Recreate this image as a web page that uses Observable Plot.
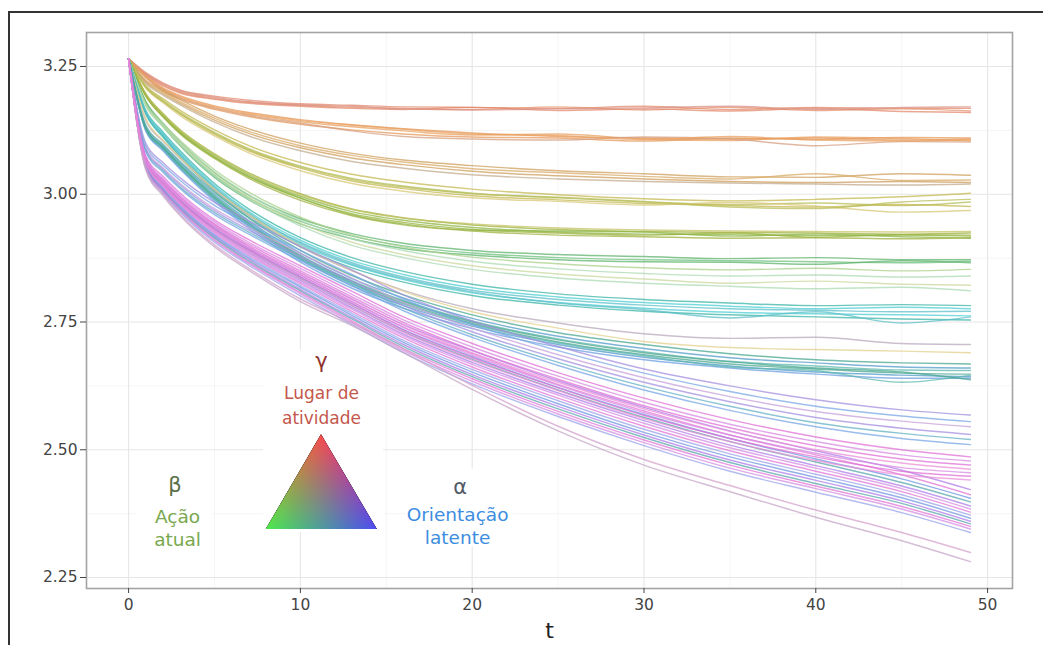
<!DOCTYPE html>
<html><head><meta charset="utf-8">
<script src="https://cdn.jsdelivr.net/npm/d3@7"></script>
<script src="https://cdn.jsdelivr.net/npm/@observablehq/plot@0.6"></script>
<style>
html,body{margin:0;padding:0;background:#fff;overflow:hidden;}
#wrap{position:relative;width:1043px;height:645px;overflow:hidden;}
#outer{position:absolute;left:8px;top:11px;width:1040px;height:700px;border-left:2px solid #333;border-top:2px solid #333;pointer-events:none;}
</style></head><body><div id="wrap"><div id="chart"></div><div id="outer"></div></div>
<script>
// time samples (t)
const T = [0,1,2,3,5,7,10,13,16,20,25,30,35,40,45,49];

// bundles of lines
const bundleA = [
 [3.265,3.238,3.218,3.204,3.192,3.184,3.177,3.174,3.171,3.170,3.168,3.172,3.166,3.170,3.168,3.168],
 [3.265,3.235,3.214,3.200,3.188,3.180,3.174,3.170,3.168,3.166,3.171,3.165,3.170,3.164,3.167,3.163],
 [3.265,3.233,3.212,3.198,3.186,3.178,3.172,3.168,3.166,3.170,3.164,3.167,3.163,3.168,3.162,3.160],
 [3.265,3.236,3.216,3.202,3.190,3.181,3.175,3.172,3.167,3.165,3.167,3.169,3.172,3.166,3.170,3.171]];
const keysA = ["a1","a2","a1","a3"];
const bundleB = [
 [3.265,3.232,3.208,3.193,3.173,3.160,3.146,3.136,3.128,3.120,3.113,3.110,3.108,3.110,3.106,3.108],
 [3.265,3.230,3.205,3.189,3.169,3.156,3.142,3.132,3.124,3.116,3.118,3.108,3.105,3.112,3.109,3.104],
 [3.265,3.228,3.202,3.186,3.166,3.152,3.137,3.126,3.118,3.112,3.110,3.104,3.110,3.107,3.111,3.110],
 [3.265,3.229,3.204,3.188,3.168,3.154,3.139,3.124,3.113,3.108,3.106,3.112,3.108,3.095,3.103,3.102],
 [3.265,3.231,3.207,3.191,3.171,3.158,3.144,3.135,3.127,3.118,3.115,3.107,3.113,3.106,3.104,3.106]];
const keysB = ["b1","b2","b1","b3","b2"];
const bundleC = [
 [3.265,3.223,3.203,3.185,3.153,3.128,3.100,3.080,3.067,3.056,3.046,3.040,3.034,3.033,3.040,3.037],
 [3.265,3.221,3.200,3.181,3.149,3.123,3.095,3.076,3.063,3.050,3.042,3.035,3.030,3.040,3.027,3.028],
 [3.265,3.219,3.197,3.178,3.145,3.119,3.091,3.071,3.058,3.045,3.036,3.030,3.025,3.023,3.025,3.023],
 [3.265,3.217,3.194,3.175,3.141,3.114,3.085,3.064,3.051,3.038,3.030,3.025,3.022,3.020,3.018,3.020]];
const keysC = ["c1","c2","c1","c3"];
const bundleD = [
 [3.265,3.213,3.187,3.164,3.126,3.095,3.062,3.039,3.024,3.010,2.999,2.991,2.987,2.990,2.995,3.002],
 [3.265,3.211,3.184,3.160,3.121,3.089,3.055,3.031,3.016,3.002,2.993,2.985,2.980,2.983,2.978,2.985],
 [3.265,3.209,3.181,3.157,3.117,3.085,3.051,3.026,3.011,2.997,2.989,2.982,2.978,2.975,2.980,2.976],
 [3.265,3.208,3.179,3.154,3.114,3.081,3.046,3.021,3.006,2.993,2.986,2.979,2.984,2.977,2.965,2.968],
 [3.265,3.210,3.182,3.158,3.119,3.087,3.053,3.029,3.014,3.001,2.994,2.986,2.975,2.972,2.985,2.990]];
const keysD = ["d1","d2","d1","d3","d2"];
const bundleE = [
 [3.265,3.197,3.158,3.126,3.079,3.042,3.001,2.971,2.954,2.940,2.931,2.927,2.925,2.924,2.922,2.924],
 [3.265,3.195,3.156,3.123,3.076,3.038,2.996,2.966,2.949,2.935,2.926,2.922,2.921,2.919,2.920,2.918],
 [3.265,3.193,3.153,3.120,3.072,3.034,2.992,2.962,2.945,2.931,2.924,2.920,2.924,2.916,2.921,2.920],
 [3.265,3.194,3.154,3.121,3.073,3.035,2.993,2.960,2.942,2.930,2.928,2.926,2.918,2.922,2.917,2.914],
 [3.265,3.196,3.157,3.125,3.078,3.040,2.999,2.970,2.953,2.942,2.934,2.930,2.928,2.927,2.926,2.927],
 [3.265,3.192,3.151,3.118,3.070,3.031,2.988,2.958,2.940,2.928,2.920,2.917,2.914,2.915,2.913,2.915]];
const keysE = ["e1","e2","e1","e2","e3","e1"];
const bundleF = [
 [3.265,3.182,3.139,3.102,3.042,2.998,2.952,2.923,2.904,2.890,2.882,2.878,2.874,2.876,2.872,2.872],
 [3.265,3.180,3.136,3.098,3.037,2.993,2.947,2.918,2.899,2.885,2.876,2.872,2.870,2.868,2.866,2.869],
 [3.265,3.178,3.133,3.095,3.033,2.989,2.942,2.913,2.894,2.881,2.872,2.868,2.867,2.863,2.870,2.866]];
const keysF = ["f1","f2","f1"];
const bundleL = [
 [3.265,3.177,3.139,3.105,3.048,3.004,2.955,2.920,2.897,2.877,2.864,2.856,2.852,2.855,2.850,2.853],
 [3.265,3.176,3.137,3.102,3.044,2.999,2.949,2.913,2.890,2.869,2.854,2.845,2.840,2.842,2.838,2.840],
 [3.265,3.174,3.134,3.099,3.040,2.994,2.943,2.906,2.882,2.860,2.844,2.834,2.826,2.830,2.824,2.822],
 [3.265,3.173,3.132,3.096,3.036,2.990,2.938,2.900,2.876,2.853,2.836,2.826,2.820,2.815,2.818,2.811]];
const keysL = ["l1","l2","l3","l2"];
const bundleG = [
 [3.265,3.164,3.122,3.085,3.021,2.971,2.915,2.876,2.849,2.824,2.805,2.794,2.787,2.782,2.784,2.782],
 [3.265,3.162,3.119,3.082,3.017,2.966,2.910,2.870,2.843,2.817,2.799,2.788,2.781,2.776,2.779,2.776],
 [3.265,3.160,3.117,3.079,3.014,2.963,2.906,2.866,2.838,2.812,2.794,2.783,2.776,2.773,2.770,2.771],
 [3.265,3.158,3.114,3.076,3.010,2.959,2.901,2.861,2.833,2.807,2.788,2.777,2.769,2.766,2.764,2.762],
 [3.265,3.157,3.112,3.073,3.007,2.955,2.897,2.856,2.828,2.802,2.783,2.771,2.764,2.760,2.756,2.754],
 [3.265,3.159,3.115,3.077,3.012,2.961,2.904,2.863,2.835,2.809,2.787,2.774,2.758,2.770,2.748,2.760]];
const keysG = ["g1","g2","g3","g2","g1","g3"];
const bundleP = [
 [3.265,3.145,3.104,3.070,3.008,2.958,2.897,2.850,2.812,2.776,2.748,2.727,2.718,2.720,2.708,2.706],
 [3.265,3.148,3.106,3.072,3.010,2.960,2.899,2.851,2.810,2.770,2.738,2.712,2.700,2.696,2.693,2.690]];
const keysP = ["p1","y1"];
const bundleH = [
 [3.265,3.135,3.098,3.064,3.004,2.953,2.890,2.841,2.803,2.764,2.729,2.706,2.688,2.676,2.670,2.668],
 [3.265,3.132,3.095,3.061,3.000,2.948,2.885,2.835,2.797,2.757,2.722,2.698,2.680,2.670,2.662,2.660],
 [3.265,3.130,3.093,3.058,2.997,2.945,2.881,2.831,2.792,2.752,2.717,2.692,2.673,2.664,2.656,2.655],
 [3.265,3.128,3.090,3.055,2.993,2.941,2.876,2.826,2.787,2.747,2.711,2.686,2.668,2.658,2.650,2.648],
 [3.265,3.126,3.088,3.052,2.990,2.937,2.872,2.821,2.782,2.742,2.706,2.681,2.664,2.652,2.646,2.643],
 [3.265,3.124,3.085,3.049,2.986,2.933,2.867,2.816,2.777,2.737,2.701,2.676,2.660,2.648,2.640,2.640],
 [3.265,3.127,3.089,3.053,2.991,2.939,2.874,2.824,2.785,2.745,2.709,2.684,2.662,2.655,2.632,2.646],
 [3.265,3.129,3.092,3.057,2.995,2.943,2.879,2.829,2.790,2.750,2.715,2.690,2.672,2.660,2.652,2.637]];
const keysH = ["h1","h2","h3","h1","h2","h4","h3","h1"];
const bundleU = [
 [3.265,3.100,3.062,3.032,2.984,2.948,2.898,2.852,2.803,2.752,2.702,2.658,2.625,2.598,2.578,2.568],
 [3.265,3.095,3.057,3.027,2.978,2.941,2.890,2.843,2.795,2.745,2.694,2.650,2.614,2.585,2.566,2.555],
 [3.265,3.090,3.052,3.021,2.972,2.935,2.884,2.836,2.788,2.738,2.686,2.641,2.604,2.575,2.556,2.545],
 [3.265,3.088,3.049,3.018,2.968,2.930,2.878,2.830,2.782,2.731,2.678,2.632,2.594,2.563,2.542,2.530],
 [3.265,3.085,3.046,3.014,2.964,2.926,2.874,2.826,2.777,2.725,2.671,2.624,2.585,2.553,2.532,2.520],
 [3.265,3.083,3.043,3.011,2.960,2.922,2.870,2.821,2.772,2.720,2.665,2.617,2.577,2.545,2.522,2.510]];
const keysU = ["u1","u2","u3","u1","u4","u2"];
const bundleK = [
 [3.265,3.070,3.027,2.993,2.940,2.898,2.846,2.795,2.745,2.694,2.635,2.583,2.537,2.498,2.460,2.422],
 [3.265,3.068,3.024,2.990,2.937,2.895,2.842,2.790,2.740,2.688,2.628,2.576,2.529,2.490,2.451,2.412],
 [3.265,3.066,3.022,2.988,2.934,2.892,2.838,2.786,2.735,2.682,2.622,2.569,2.522,2.482,2.443,2.405],
 [3.265,3.064,3.020,2.986,2.932,2.889,2.835,2.782,2.731,2.677,2.617,2.563,2.516,2.476,2.436,2.398],
 [3.265,3.062,3.018,2.983,2.929,2.886,2.831,2.778,2.726,2.671,2.611,2.557,2.509,2.469,2.429,2.390],
 [3.265,3.061,3.016,2.981,2.927,2.884,2.828,2.775,2.723,2.667,2.607,2.552,2.504,2.464,2.424,2.384],
 [3.265,3.060,3.014,2.979,2.924,2.881,2.825,2.771,2.719,2.662,2.601,2.546,2.498,2.458,2.418,2.378],
 [3.265,3.058,3.012,2.977,2.921,2.878,2.821,2.767,2.714,2.657,2.596,2.540,2.492,2.452,2.412,2.372],
 [3.265,3.057,3.010,2.975,2.919,2.875,2.818,2.763,2.710,2.652,2.590,2.534,2.486,2.446,2.406,2.366],
 [3.265,3.056,3.009,2.973,2.916,2.872,2.814,2.759,2.706,2.647,2.585,2.529,2.480,2.440,2.400,2.360],
 [3.265,3.055,3.007,2.971,2.914,2.869,2.811,2.756,2.702,2.643,2.580,2.524,2.475,2.434,2.395,2.355],
 [3.265,3.054,3.006,2.969,2.911,2.866,2.808,2.752,2.698,2.639,2.575,2.519,2.470,2.429,2.389,2.350],
 [3.265,3.053,3.004,2.967,2.909,2.864,2.805,2.749,2.694,2.634,2.570,2.514,2.464,2.424,2.384,2.345],
 [3.265,3.052,3.002,2.965,2.906,2.861,2.801,2.745,2.690,2.629,2.565,2.508,2.458,2.417,2.377,2.338]];
const keysK = ["k1","k2","k3","k4","k1","k5","k2","k6","k3","k1","k4","k2","k5","k6"];
const bundleZ = [
 [3.265,3.050,3.000,2.961,2.901,2.855,2.795,2.748,2.697,2.626,2.546,2.481,2.430,2.382,2.338,2.299],
 [3.265,3.048,2.997,2.958,2.897,2.851,2.790,2.743,2.690,2.618,2.537,2.470,2.418,2.368,2.322,2.281]];
const keysZ = ["z1","z2"];
const bundleM = [
 [3.265,3.075,3.035,3.002,2.950,2.911,2.860,2.810,2.760,2.708,2.651,2.601,2.559,2.525,2.500,2.486],
 [3.265,3.072,3.031,2.998,2.946,2.906,2.855,2.804,2.754,2.701,2.644,2.593,2.550,2.516,2.490,2.478],
 [3.265,3.070,3.028,2.995,2.942,2.902,2.850,2.799,2.749,2.695,2.638,2.586,2.543,2.508,2.482,2.470],
 [3.265,3.068,3.026,2.992,2.939,2.898,2.846,2.794,2.744,2.690,2.632,2.580,2.536,2.500,2.474,2.462],
 [3.265,3.066,3.023,2.989,2.935,2.894,2.842,2.790,2.739,2.685,2.626,2.573,2.529,2.493,2.465,2.455],
 [3.265,3.064,3.021,2.986,2.932,2.891,2.838,2.786,2.734,2.680,2.621,2.567,2.522,2.486,2.458,2.448],
 [3.265,3.062,3.019,2.984,2.929,2.888,2.834,2.782,2.730,2.675,2.616,2.561,2.516,2.479,2.451,2.441]];
const keysM = ["m1","m2","m1","m3","m2","m1","m3"];

// axis ticks
const xTicks = [0,10,20,30,40,50];
const xMinor = [5,15,25,35,45];
const yTicks = [2.25,2.50,2.75,3.00,3.25];
const yMinor = [2.375,2.625,2.875,3.125];

// legend annotation text
const gammaLabel = [{t:11.23, v:2.674, text:"γ"}];
const gammaName = [{t:11.23, v:2.591, text:"Lugar de\natividade"}];
const betaLabel = [{t:2.70, v:2.431, text:"β"}];
const betaName = [{t:2.85, v:2.349, text:"Ação\natual"}];
const alphaLabel = [{t:19.30, v:2.426, text:"α"}];
const alphaName = [{t:19.15, v:2.353, text:"Orientação\nlatente"}];
const triangleVerts = [[11.23,2.5293],[8.015,2.3438],[14.476,2.3438]];
const legendBoxes = [
 {t1:7.85, t2:14.85, v1:2.338, v2:2.695},
 {t1:16.2, t2:22.4, v1:2.31, v2:2.462},
 {t1:0.5, t2:4.9, v1:2.31, v2:2.462}];

// palette (style)
const palette = {
 a1:"#e2886a", a2:"#e6946e", a3:"#d98f84",
 b1:"#e5985a", b2:"#e9a263", b3:"#d59f80",
 c1:"#cf9e5a", c2:"#d8aa66", c3:"#c2aa8c",
 d1:"#c4b84e", d2:"#b6bd56", d3:"#d8c878",
 e1:"#9db13c", e2:"#8cb644", e3:"#c4c262",
 f1:"#5cb26a", f2:"#6cc07c",
 l1:"#a8d08a", l2:"#acd9b2", l3:"#cad89e",
 g1:"#38b4a6", g2:"#4ccfd4", g3:"#5abec8",
 p1:"#b6a8bc", y1:"#e2d08c",
 h1:"#46a68e", h2:"#4e98c8", h3:"#5cb8b0", h4:"#6a9ee0",
 u1:"#a38fe0", u2:"#78a6e6", u3:"#c6a0da", u4:"#62b0c4",
 k1:"#ae7ce8", k2:"#e276d6", k3:"#6f96e0", k4:"#58a6aa", k5:"#d48ce2", k6:"#9aa4ea",
 z1:"#d3a0cc", z2:"#c5a6c6",
 m1:"#e06ed6", m2:"#d888e2", m3:"#ea8ed8"
};

const groups = [
 [bundleA,keysA],[bundleB,keysB],[bundleC,keysC],[bundleD,keysD],[bundleE,keysE],
 [bundleF,keysF],[bundleL,keysL],[bundleG,keysG],[bundleP,keysP],[bundleH,keysH],
 [bundleU,keysU],[bundleK,keysK],[bundleZ,keysZ],[bundleM,keysM]];
const rows = [];
let id = 0;
for (const [lines, keys] of groups) {
  lines.forEach((vals, i) => {
    vals.forEach((v, j) => rows.push({t: T[j], v, id, key: keys[i]}));
    id++;
  });
}

const FONT = "DejaVu Sans, Liberation Sans, sans-serif";
const plot = Plot.plot({
  width: 1043, height: 645,
  marginLeft: 86, marginRight: 31, marginTop: 32, marginBottom: 57,
  x: {domain: [-2.45, 51.45]},
  y: {domain: [2.2285, 3.3165]},
  color: {type: "ordinal", domain: Object.keys(palette), range: Object.values(palette)},
  style: {fontFamily: FONT, background: "transparent", overflow: "visible"},
  marks: [
    Plot.gridX(xMinor, {stroke: "#f3f3f3", strokeOpacity: 1, strokeWidth: 0.8}),
    Plot.gridY(yMinor, {stroke: "#f3f3f3", strokeOpacity: 1, strokeWidth: 0.8}),
    Plot.gridX(xTicks, {stroke: "#e6e6e6", strokeOpacity: 1, strokeWidth: 1.1}),
    Plot.gridY(yTicks, {stroke: "#e6e6e6", strokeOpacity: 1, strokeWidth: 1.1}),
    Plot.rect(legendBoxes, {x1: "t1", x2: "t2", y1: "v1", y2: "v2", fill: "white"}),
    Plot.line(rows, {x: "t", y: "v", z: "id", stroke: "key", strokeOpacity: 0.74, strokeWidth: 1.45, strokeLinejoin: "round", curve: "monotone-x"}),
    Plot.frame({stroke: "#a3a3a3", strokeWidth: 1.6}),
    Plot.axisY({ticks: yTicks, tickFormat: d3.format(".2f"), tickSize: 6, tickPadding: 3, label: null, fontSize: 15.5, color: "#444"}),
    Plot.axisX({ticks: xTicks, tickSize: 5, tickPadding: 5, label: null, fontSize: 15.5, color: "#444"}),
    Plot.text(["t"], {frameAnchor: "bottom", lineAnchor: "bottom", dy: 49, fontSize: 22, fill: "#222"}),
    Plot.text(gammaLabel, {x: "t", y: "v", text: "text", fontSize: 21, fill: "#8e2f2a"}),
    Plot.text(gammaName, {x: "t", y: "v", text: "text", fontSize: 17, lineHeight: 1.5, fill: "#c4574c"}),
    Plot.text(betaLabel, {x: "t", y: "v", text: "text", fontSize: 21, fill: "#5a6f48"}),
    Plot.text(betaName, {x: "t", y: "v", text: "text", fontSize: 18.5, lineHeight: 1.25, fill: "#78a84e"}),
    Plot.text(alphaLabel, {x: "t", y: "v", text: "text", fontSize: 21, fill: "#545b66"}),
    Plot.text(alphaName, {x: "t", y: "v", text: "text", fontSize: 18.5, lineHeight: 1.28, fill: "#3d8de0"})
  ]
});
document.getElementById("chart").appendChild(plot);

// ternary colour triangle of the legend, placed with the plot's scales
const sx = plot.scale("x"), sy = plot.scale("y");
const P = triangleVerts.map(([t, v]) => [sx.apply(t), sy.apply(v)]);
const svg = d3.select(plot);
const defs = svg.append("defs");
const vcol = ["rgb(245,0,0)", "rgb(0,225,0)", "rgb(0,0,235)"];
function foot(p, a, b) {
  const dx = b[0] - a[0], dy = b[1] - a[1];
  const u = ((p[0] - a[0]) * dx + (p[1] - a[1]) * dy) / (dx * dx + dy * dy);
  return [a[0] + u * dx, a[1] + u * dy];
}
P.forEach((p, i) => {
  const f = foot(p, P[(i + 1) % 3], P[(i + 2) % 3]);
  const g = defs.append("linearGradient").attr("id", "tg" + i).attr("gradientUnits", "userSpaceOnUse")
    .attr("x1", p[0]).attr("y1", p[1]).attr("x2", f[0]).attr("y2", f[1]);
  g.append("stop").attr("offset", 0).attr("stop-color", vcol[i]);
  g.append("stop").attr("offset", 1).attr("stop-color", "#000");
});
const tg = svg.append("g").style("isolation", "isolate");
const pts = P.map(p => p.join(",")).join(" ");
tg.append("polygon").attr("points", pts).attr("fill", "url(#tg0)");
tg.append("polygon").attr("points", pts).attr("fill", "url(#tg1)").style("mix-blend-mode", "screen");
tg.append("polygon").attr("points", pts).attr("fill", "url(#tg2)").style("mix-blend-mode", "screen");
tg.append("polygon").attr("points", pts).attr("fill", "#fff").attr("fill-opacity", 0.3);
</script></body></html>
